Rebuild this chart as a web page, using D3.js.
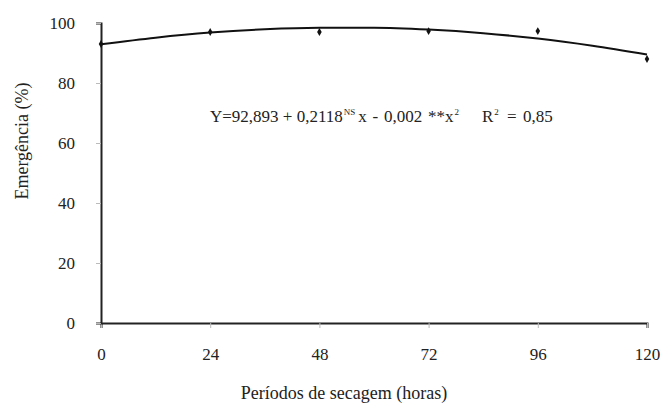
<!DOCTYPE html>
<html>
<head>
<meta charset="utf-8">
<script src="https://cdn.jsdelivr.net/npm/d3@7"></script>
<style>
  body { margin: 0; background: #fff; }
</style>
</head>
<body>
<div id="chart"></div>
<script>
// observed values
const hours = [0, 24, 48, 72, 96, 120];
const emergence = [93, 97, 97, 97.3, 97.3, 88];

// fitted curve
const curveHours = [0, 12, 24, 36, 48, 60, 72, 84, 96, 108, 120];
const curveValues = [92.9, 95.1, 96.8, 97.9, 98.4, 98.4, 97.8, 96.6, 94.8, 92.4, 89.5];

const xTicks = [0, 24, 48, 72, 96, 120];
const yTicks = [0, 20, 40, 60, 80, 100];

const FONT = "Liberation Serif, Times New Roman, DejaVu Serif, serif";
const width = 662, height = 407;
const margin = {top: 23, right: 15, bottom: 84, left: 101};

const svg = d3.select("#chart").append("svg")
    .attr("width", width)
    .attr("height", height)
    .attr("font-family", FONT);

const x = d3.scaleLinear()
    .domain([0, 120])
    .range([margin.left, width - margin.right]);

const y = d3.scaleLinear()
    .domain([0, 100])
    .range([height - margin.bottom, margin.top]);

// X-axis
const xAxis = svg.append("g")
    .attr("transform", `translate(0,${y(0)})`)
    .call(d3.axisBottom(x).tickValues(xTicks).tickSize(5).tickPadding(20))
    .attr("font-family", FONT)
    .attr("font-size", 17);
xAxis.select(".domain").attr("stroke", "#222").attr("stroke-width", 2);
xAxis.selectAll(".tick line").attr("stroke", "#bbb");
xAxis.selectAll(".tick text").attr("fill", "#222");

// Y-axis
const yAxis = svg.append("g")
    .attr("transform", `translate(${x(0)},0)`)
    .call(d3.axisLeft(y).tickValues(yTicks).tickSize(5).tickPadding(21))
    .attr("font-family", FONT)
    .attr("font-size", 17);
yAxis.select(".domain").attr("stroke", "#222").attr("stroke-width", 2);
yAxis.selectAll(".tick line").attr("stroke", "#bbb");
yAxis.selectAll(".tick text").attr("fill", "#222");

// axis titles
svg.append("text")
    .attr("x", 344)
    .attr("y", 399)
    .attr("text-anchor", "middle")
    .attr("font-size", 18)
    .attr("fill", "#222")
    .text("Períodos de secagem (horas)");

svg.append("text")
    .attr("transform", "translate(28,141) rotate(-90)")
    .attr("text-anchor", "middle")
    .attr("font-size", 18)
    .attr("fill", "#222")
    .text("Emergência (%)");

// fitted line
const line = d3.line()
    .x(d => x(d[0]))
    .y(d => y(d[1]))
    .curve(d3.curveMonotoneX);

svg.append("path")
    .datum(curveHours.map((h, i) => [h, curveValues[i]]))
    .attr("fill", "none")
    .attr("stroke", "#111")
    .attr("stroke-width", 2)
    .attr("d", line);

// points
svg.selectAll("path.pt")
    .data(hours.map((h, i) => [h, emergence[i]]))
    .enter().append("path")
    .attr("class", "pt")
    .attr("transform", d => `translate(${x(d[0])},${y(d[1])})`)
    .attr("d", d3.symbol().type(d3.symbolDiamond).size(18))
    .attr("fill", "#111");

// equation
const eq = svg.append("text")
    .attr("x", 210)
    .attr("y", 122)
    .attr("font-size", 17)
    .attr("fill", "#222");
eq.append("tspan").text("Y=92,893 + 0,2118");
eq.append("tspan").attr("dy", -7).attr("dx", 1).attr("font-size", 9).text("NS");
eq.append("tspan").attr("dy", 7).attr("dx", 3).attr("word-spacing", 1.5).text("x - 0,002 **x");
eq.append("tspan").attr("dy", -7).attr("dx", 1).attr("font-size", 9).text("2");
eq.append("tspan").attr("dy", 7).attr("dx", 23).text("R");
eq.append("tspan").attr("dy", -7).attr("dx", 1).attr("font-size", 9).text("2");
eq.append("tspan").attr("dy", 7).attr("dx", 2).attr("word-spacing", 2).text(" = 0,85");
</script>
</body>
</html>
